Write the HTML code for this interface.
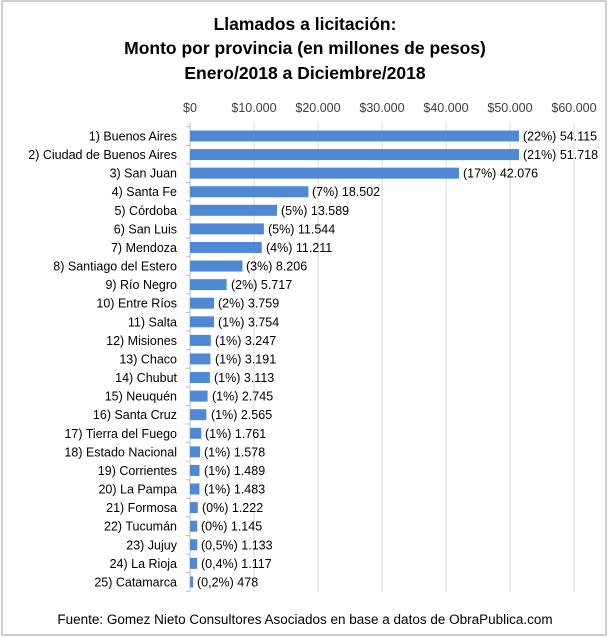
<!DOCTYPE html>
<html><head><meta charset="utf-8"><style>
html,body{margin:0;padding:0;background:#fff}
svg{display:block;font-family:"Liberation Sans",sans-serif}
</style></head><body>
<svg width="611" height="637" viewBox="0 0 611 637" xmlns="http://www.w3.org/2000/svg">
<rect x="2" y="1" width="604" height="634" fill="#fff" stroke="#bdbdbd" stroke-width="1.5"/>
<g font-weight="bold" font-size="17.5" text-anchor="middle" fill="#000">
<text x="305" y="30">Llamados a licitación:</text>
<text x="305" y="54">Monto por provincia (en millones de pesos)</text>
<text x="305" y="79">Enero/2018 a Diciembre/2018</text>
</g>
<g font-size="12.5" fill="#404040" text-anchor="middle">
<text x="190" y="112">$0</text><text x="254" y="112">$10.000</text><text x="318" y="112">$20.000</text><text x="382" y="112">$30.000</text><text x="446" y="112">$40.000</text><text x="510" y="112">$50.000</text><text x="574" y="112">$60.000</text>
</g>
<g stroke="#d9d9d9" stroke-width="1">
<line x1="254" y1="122" x2="254" y2="592"/><line x1="318" y1="122" x2="318" y2="592"/><line x1="382" y1="122" x2="382" y2="592"/><line x1="446" y1="122" x2="446" y2="592"/><line x1="510" y1="122" x2="510" y2="592"/><line x1="574" y1="122" x2="574" y2="592"/>
<line x1="190" y1="122" x2="190" y2="592" stroke="#bfbfbf"/>
</g>
<g font-size="12.5" fill="#000">
<g transform="translate(0,136)"><text x="177" y="4.5" text-anchor="end">1) Buenos Aires</text><rect x="190" y="-5.5" width="329" height="11" fill="#4f89d6"/><text x="523" y="4.5">(22%) 54.115</text></g>
<g transform="translate(0,154.58)"><text x="177" y="4.5" text-anchor="end">2) Ciudad de Buenos Aires</text><rect x="190" y="-5.5" width="329" height="11" fill="#4f89d6"/><text x="523" y="4.5">(21%) 51.718</text></g>
<g transform="translate(0,173.16)"><text x="177" y="4.5" text-anchor="end">3) San Juan</text><rect x="190" y="-5.5" width="269" height="11" fill="#4f89d6"/><text x="463" y="4.5">(17%) 42.076</text></g>
<g transform="translate(0,191.74)"><text x="177" y="4.5" text-anchor="end">4) Santa Fe</text><rect x="190" y="-5.5" width="118.4" height="11" fill="#4f89d6"/><text x="312" y="4.5">(7%) 18.502</text></g>
<g transform="translate(0,210.32)"><text x="177" y="4.5" text-anchor="end">5) Córdoba</text><rect x="190" y="-5.5" width="87" height="11" fill="#4f89d6"/><text x="281" y="4.5">(5%) 13.589</text></g>
<g transform="translate(0,228.9)"><text x="177" y="4.5" text-anchor="end">6) San Luis</text><rect x="190" y="-5.5" width="73.9" height="11" fill="#4f89d6"/><text x="268" y="4.5">(5%) 11.544</text></g>
<g transform="translate(0,247.48)"><text x="177" y="4.5" text-anchor="end">7) Mendoza</text><rect x="190" y="-5.5" width="71.8" height="11" fill="#4f89d6"/><text x="266" y="4.5">(4%) 11.211</text></g>
<g transform="translate(0,266.06)"><text x="177" y="4.5" text-anchor="end">8) Santiago del Estero</text><rect x="190" y="-5.5" width="52.5" height="11" fill="#4f89d6"/><text x="246" y="4.5">(3%) 8.206</text></g>
<g transform="translate(0,284.64)"><text x="177" y="4.5" text-anchor="end">9) Río Negro</text><rect x="190" y="-5.5" width="36.6" height="11" fill="#4f89d6"/><text x="231" y="4.5">(2%) 5.717</text></g>
<g transform="translate(0,303.22)"><text x="177" y="4.5" text-anchor="end">10) Entre Ríos</text><rect x="190" y="-5.5" width="24" height="11" fill="#4f89d6"/><text x="218" y="4.5">(2%) 3.759</text></g>
<g transform="translate(0,321.8)"><text x="177" y="4.5" text-anchor="end">11) Salta</text><rect x="190" y="-5.5" width="24" height="11" fill="#4f89d6"/><text x="218" y="4.5">(1%) 3.754</text></g>
<g transform="translate(0,340.38)"><text x="177" y="4.5" text-anchor="end">12) Misiones</text><rect x="190" y="-5.5" width="20.8" height="11" fill="#4f89d6"/><text x="215" y="4.5">(1%) 3.247</text></g>
<g transform="translate(0,358.96)"><text x="177" y="4.5" text-anchor="end">13) Chaco</text><rect x="190" y="-5.5" width="20.4" height="11" fill="#4f89d6"/><text x="215" y="4.5">(1%) 3.191</text></g>
<g transform="translate(0,377.54)"><text x="177" y="4.5" text-anchor="end">14) Chubut</text><rect x="190" y="-5.5" width="19.9" height="11" fill="#4f89d6"/><text x="214" y="4.5">(1%) 3.113</text></g>
<g transform="translate(0,396.12)"><text x="177" y="4.5" text-anchor="end">15) Neuquén</text><rect x="190" y="-5.5" width="17.6" height="11" fill="#4f89d6"/><text x="212" y="4.5">(1%) 2.745</text></g>
<g transform="translate(0,414.7)"><text x="177" y="4.5" text-anchor="end">16) Santa Cruz</text><rect x="190" y="-5.5" width="16.4" height="11" fill="#4f89d6"/><text x="211" y="4.5">(1%) 2.565</text></g>
<g transform="translate(0,433.28)"><text x="177" y="4.5" text-anchor="end">17) Tierra del Fuego</text><rect x="190" y="-5.5" width="11.3" height="11" fill="#4f89d6"/><text x="205" y="4.5">(1%) 1.761</text></g>
<g transform="translate(0,451.86)"><text x="177" y="4.5" text-anchor="end">18) Estado Nacional</text><rect x="190" y="-5.5" width="10.1" height="11" fill="#4f89d6"/><text x="204" y="4.5">(1%) 1.578</text></g>
<g transform="translate(0,470.44)"><text x="177" y="4.5" text-anchor="end">19) Corrientes</text><rect x="190" y="-5.5" width="9.5" height="11" fill="#4f89d6"/><text x="204" y="4.5">(1%) 1.489</text></g>
<g transform="translate(0,489.02)"><text x="177" y="4.5" text-anchor="end">20) La Pampa</text><rect x="190" y="-5.5" width="9.5" height="11" fill="#4f89d6"/><text x="204" y="4.5">(1%) 1.483</text></g>
<g transform="translate(0,507.6)"><text x="177" y="4.5" text-anchor="end">21) Formosa</text><rect x="190" y="-5.5" width="7.8" height="11" fill="#4f89d6"/><text x="202" y="4.5">(0%) 1.222</text></g>
<g transform="translate(0,526.18)"><text x="177" y="4.5" text-anchor="end">22) Tucumán</text><rect x="190" y="-5.5" width="7.3" height="11" fill="#4f89d6"/><text x="201" y="4.5">(0%) 1.145</text></g>
<g transform="translate(0,544.76)"><text x="177" y="4.5" text-anchor="end">23) Jujuy</text><rect x="190" y="-5.5" width="7.3" height="11" fill="#4f89d6"/><text x="201" y="4.5">(0,5%) 1.133</text></g>
<g transform="translate(0,563.34)"><text x="177" y="4.5" text-anchor="end">24) La Rioja</text><rect x="190" y="-5.5" width="7.1" height="11" fill="#4f89d6"/><text x="201" y="4.5">(0,4%) 1.117</text></g>
<g transform="translate(0,581.92)"><text x="177" y="4.5" text-anchor="end">25) Catamarca</text><rect x="190" y="-5.5" width="3.1" height="11" fill="#4f89d6"/><text x="197" y="4.5">(0,2%) 478</text></g>
</g>
<g stroke="#bfbfbf">
<line x1="186" x2="190" y1="126.7" y2="126.7"/><line x1="186" x2="190" y1="145.3" y2="145.3"/><line x1="186" x2="190" y1="163.9" y2="163.9"/><line x1="186" x2="190" y1="182.4" y2="182.4"/><line x1="186" x2="190" y1="201" y2="201"/><line x1="186" x2="190" y1="219.6" y2="219.6"/><line x1="186" x2="190" y1="238.2" y2="238.2"/><line x1="186" x2="190" y1="256.8" y2="256.8"/><line x1="186" x2="190" y1="275.4" y2="275.4"/><line x1="186" x2="190" y1="293.9" y2="293.9"/><line x1="186" x2="190" y1="312.5" y2="312.5"/><line x1="186" x2="190" y1="331.1" y2="331.1"/><line x1="186" x2="190" y1="349.7" y2="349.7"/><line x1="186" x2="190" y1="368.3" y2="368.3"/><line x1="186" x2="190" y1="386.8" y2="386.8"/><line x1="186" x2="190" y1="405.4" y2="405.4"/><line x1="186" x2="190" y1="424" y2="424"/><line x1="186" x2="190" y1="442.6" y2="442.6"/><line x1="186" x2="190" y1="461.2" y2="461.2"/><line x1="186" x2="190" y1="479.7" y2="479.7"/><line x1="186" x2="190" y1="498.3" y2="498.3"/><line x1="186" x2="190" y1="516.9" y2="516.9"/><line x1="186" x2="190" y1="535.5" y2="535.5"/><line x1="186" x2="190" y1="554.1" y2="554.1"/><line x1="186" x2="190" y1="572.6" y2="572.6"/><line x1="186" x2="190" y1="591.2" y2="591.2"/>
</g>
<text x="305" y="624" font-size="13.5" text-anchor="middle" fill="#000">Fuente: Gomez Nieto Consultores Asociados en base a datos de ObraPublica.com</text>
</svg>
</body></html>
